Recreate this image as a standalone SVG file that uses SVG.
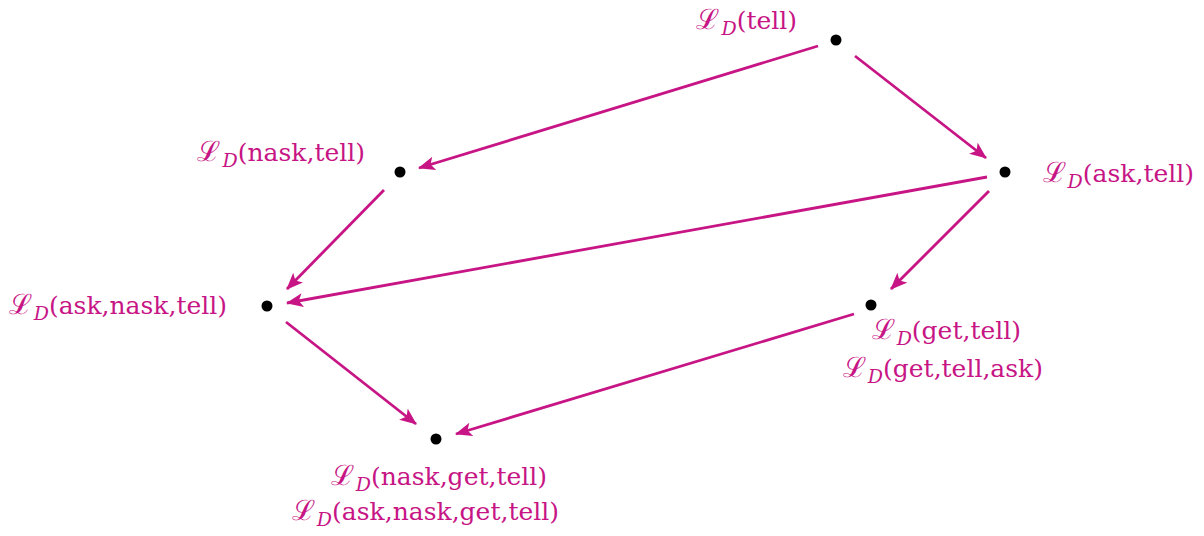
<svg xmlns="http://www.w3.org/2000/svg" width="1204" height="536" viewBox="0 0 1204 536">
<style>
.e{stroke:#C71585;stroke-width:2.8;fill:none;marker-end:url(#ah)}
.lbl{font-family:"DejaVu Serif","Liberation Serif",serif;font-size:25px;fill:#C71585}
.L{font-size:28px}
.sub{font-style:italic;font-size:19px}
.dot{fill:#000}
</style>
<defs>
<marker id="ah" markerUnits="userSpaceOnUse" markerWidth="20" markerHeight="16" refX="16" refY="7" orient="auto">
<path d="M0,0 L17,7 L0,14 L4,7 z" fill="#C71585"/>
</marker>
</defs>
<rect width="1204" height="536" fill="#fff"/>
<g id="connectors">
<line class="e" x1="818" y1="46" x2="419" y2="168"/>
<line class="e" x1="855" y1="56" x2="986" y2="158"/>
<line class="e" x1="384" y1="190" x2="287" y2="289"/>
<line class="e" x1="987" y1="177" x2="287" y2="303"/>
<line class="e" x1="989" y1="191" x2="891" y2="289"/>
<line class="e" x1="286" y1="322" x2="416" y2="424"/>
<line class="e" x1="854" y1="314" x2="456" y2="434"/>
</g>
<g id="n-tell">
<circle class="dot" cx="836" cy="40" r="5.5"/>
<text class="lbl" x="797" y="29" text-anchor="end"><tspan class="L">ℒ</tspan><tspan class="sub" dx="2" dy="6">D</tspan><tspan dy="-6">(tell)</tspan></text>
</g>
<g id="n-nask-tell">
<circle class="dot" cx="400" cy="172" r="5.5"/>
<text class="lbl" x="365" y="161" text-anchor="end"><tspan class="L">ℒ</tspan><tspan class="sub" dx="2" dy="6">D</tspan><tspan dy="-6">(nask,tell)</tspan></text>
</g>
<g id="n-ask-tell">
<circle class="dot" cx="1005" cy="172" r="5.5"/>
<text class="lbl" x="1194" y="182" text-anchor="end"><tspan class="L">ℒ</tspan><tspan class="sub" dx="2" dy="6">D</tspan><tspan dy="-6">(ask,tell)</tspan></text>
</g>
<g id="n-ask-nask-tell">
<circle class="dot" cx="267" cy="306" r="5.5"/>
<text class="lbl" x="227" y="314" text-anchor="end"><tspan class="L">ℒ</tspan><tspan class="sub" dx="2" dy="6">D</tspan><tspan dy="-6">(ask,nask,tell)</tspan></text>
</g>
<g id="n-get-tell">
<circle class="dot" cx="871" cy="305" r="5.5"/>
<text class="lbl" x="1021" y="339" text-anchor="end"><tspan class="L">ℒ</tspan><tspan class="sub" dx="2" dy="6">D</tspan><tspan dy="-6">(get,tell)</tspan></text>
<text class="lbl" x="1043" y="377" text-anchor="end"><tspan class="L">ℒ</tspan><tspan class="sub" dx="2" dy="6">D</tspan><tspan dy="-6">(get,tell,ask)</tspan></text>
</g>
<g id="n-nask-get-tell">
<circle class="dot" cx="436" cy="439" r="5.5"/>
<text class="lbl" x="547" y="485" text-anchor="end"><tspan class="L">ℒ</tspan><tspan class="sub" dx="2" dy="6">D</tspan><tspan dy="-6">(nask,get,tell)</tspan></text>
<text class="lbl" x="559" y="520" text-anchor="end"><tspan class="L">ℒ</tspan><tspan class="sub" dx="2" dy="6">D</tspan><tspan dy="-6">(ask,nask,get,tell)</tspan></text>
</g>
</svg>
